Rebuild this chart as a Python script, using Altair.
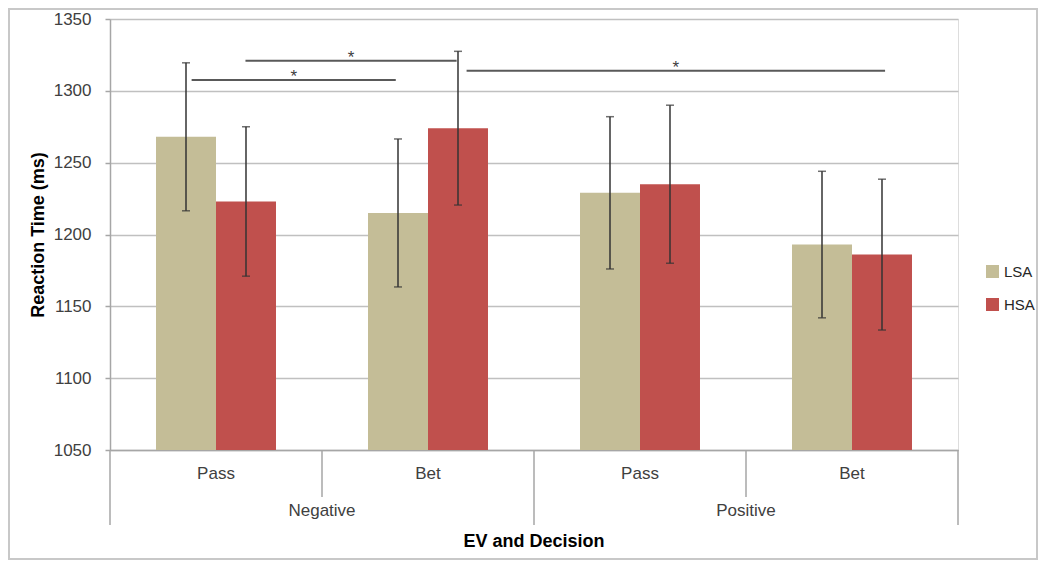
import altair as alt
import pandas as pd

# ---- data ----
ev = ["Negative", "Negative", "Positive", "Positive"]
decision = ["Pass", "Bet", "Pass", "Bet"]
groups = ["LSA", "HSA"]
colors = ["#c4bd97", "#c0504d"]
lsa_mean = [1268, 1215, 1229, 1193]
lsa_err = [51.5, 51.5, 53, 51]
hsa_mean = [1223, 1274, 1235, 1186]
hsa_err = [52, 53.5, 55, 52.5]
y_ticks = [1050, 1100, 1150, 1200, 1250, 1300, 1350]

# significance brackets (in category units, 0..4)
sig_start = [0.385, 0.639, 1.682]
sig_end = [1.348, 1.635, 3.656]
sig_y = [1307.5, 1321, 1314]

inner_sep = [1, 3]
outer_sep = [0, 2, 4]
ev_pos = [1, 3]
ev_names = ["Negative", "Positive"]

keys = [ev[i] + "|" + decision[i] for i in range(4)]
rows = []
for i in range(4):
    for g, m, e in (("LSA", lsa_mean, lsa_err), ("HSA", hsa_mean, hsa_err)):
        rows.append(dict(key=keys[i], group=g, mean=m[i], lo=m[i] - e[i], hi=m[i] + e[i]))
df = pd.DataFrame(rows)
sig_df = pd.DataFrame(dict(s=sig_start, e=sig_end, y=sig_y))
inner_df = pd.DataFrame(dict(u=inner_sep))
outer_df = pd.DataFrame(dict(u=outer_sep))
evlab_df = pd.DataFrame(dict(u=ev_pos, t=ev_names))
one_df = pd.DataFrame(dict(a=[0]))

W, H = 848, 431
FONT = "Liberation Sans"

yscale = alt.Scale(domain=[1050, 1350], nice=False, zero=False)
xband_scale = alt.Scale(paddingInner=0.434, paddingOuter=0.217)
xoff = alt.XOffset("group:N", sort=groups, scale=alt.Scale(paddingInner=0, paddingOuter=0))
xq_scale = alt.Scale(domain=[0, 4], nice=False, zero=False)

x_axis = alt.Axis(title=None, labelExpr="split(datum.label,'|')[1]", ticks=False, tickSize=0,
                  labelPadding=15, domainColor="#a6a6a6", domainWidth=1.5, labelFontSize=17,
                  labelColor="#404040", labelAngle=0, grid=False, labelFont=FONT)
y_axis = alt.Axis(values=y_ticks, format="d", title="Reaction Time (ms)", grid=True, gridColor="#c0c0c0",
                  gridWidth=1.5, domainColor="#a6a6a6", domainWidth=1.5, tickColor="#a6a6a6",
                  tickSize=5, tickWidth=1.5, labelPadding=14, labelFontSize=17, labelColor="#404040",
                  titleFontSize=18, titleFontWeight="bold", titleColor="#000000", titlePadding=6,
                  labelFont=FONT, titleFont=FONT)


def xb():
    return alt.X("key:N", sort=keys, scale=xband_scale, axis=x_axis)


def yq(field):
    return alt.Y(field, scale=yscale, axis=y_axis)


base = alt.Chart(df)
bars = base.mark_bar().encode(
    x=xb(),
    xOffset=xoff,
    y=yq("mean:Q"),
    y2=alt.datum(1050),
    color=alt.Color("group:N", sort=groups, scale=alt.Scale(domain=groups, range=colors),
                    legend=alt.Legend(title=None, orient="none", legendX=875, legendY=245,
                                      symbolType="square", symbolSize=169, symbolStrokeWidth=0,
                                      labelFontSize=15, labelColor="#262626", labelOffset=4,
                                      rowPadding=17, padding=0, labelFont=FONT)),
)
errs = base.mark_rule(color="#333333", strokeWidth=1.5).encode(
    x=xb(), xOffset=xoff, y=yq("lo:Q"), y2="hi:Q",
)
cap_lo = base.mark_tick(color="#333333", thickness=1.5, size=8).encode(
    x=xb(), xOffset=xoff, y=yq("lo:Q"),
)
cap_hi = base.mark_tick(color="#333333", thickness=1.5, size=8).encode(
    x=xb(), xOffset=xoff, y=yq("hi:Q"),
)
bar_group = alt.layer(bars, errs, cap_lo, cap_hi)

sig = alt.Chart(sig_df).mark_rule(color="#595959", strokeWidth=2).encode(
    x=alt.X("s:Q", scale=xq_scale, axis=None),
    x2="e:Q",
    y=yq("y:Q"),
)
stars = alt.Chart(sig_df).transform_calculate(m="(datum.s + datum.e) / 2").mark_text(
    text="*", fontSize=17, color="#404040", dy=-3, baseline="middle", font=FONT
).encode(
    x=alt.X("m:Q", scale=xq_scale, axis=None),
    y=yq("y:Q"),
)
inner = alt.Chart(inner_df).mark_rule(color="#a6a6a6", strokeWidth=1.5).encode(
    x=alt.X("u:Q", scale=xq_scale, axis=None),
    y=alt.value(H), y2=alt.value(H + 47),
)
outer = alt.Chart(outer_df).mark_rule(color="#a6a6a6", strokeWidth=1.5).encode(
    x=alt.X("u:Q", scale=xq_scale, axis=None),
    y=alt.value(H), y2=alt.value(H + 75),
)
evlab = alt.Chart(evlab_df).mark_text(fontSize=17, color="#404040", baseline="middle", font=FONT).encode(
    x=alt.X("u:Q", scale=xq_scale, axis=None),
    y=alt.value(492),
    text="t:N",
)
xtitle = alt.Chart(one_df).mark_text(text="EV and Decision", fontSize=18, fontWeight="bold",
                                     color="#000000", baseline="middle", font=FONT).encode(
    x=alt.value(W / 2), y=alt.value(523)
)
border = alt.Chart(one_df).mark_rect(fillOpacity=0, stroke="#c8c8c8", strokeWidth=2).encode(
    x=alt.value(-101), x2=alt.value(927), y=alt.value(-10), y2=alt.value(540)
)
over_group = alt.layer(sig, stars, inner, outer, evlab, xtitle, border)

chart = alt.layer(bar_group, over_group).resolve_scale(x="independent").properties(
    width=W, height=H,
    padding={"left": 102, "top": 11, "right": 80, "bottom": 110},
    autosize=alt.AutoSizeParams(type="none"),
).configure_view(stroke="transparent", strokeWidth=0).configure(font=FONT)

chart.save("out.html", embed_options={"renderer": "svg", "actions": False})
